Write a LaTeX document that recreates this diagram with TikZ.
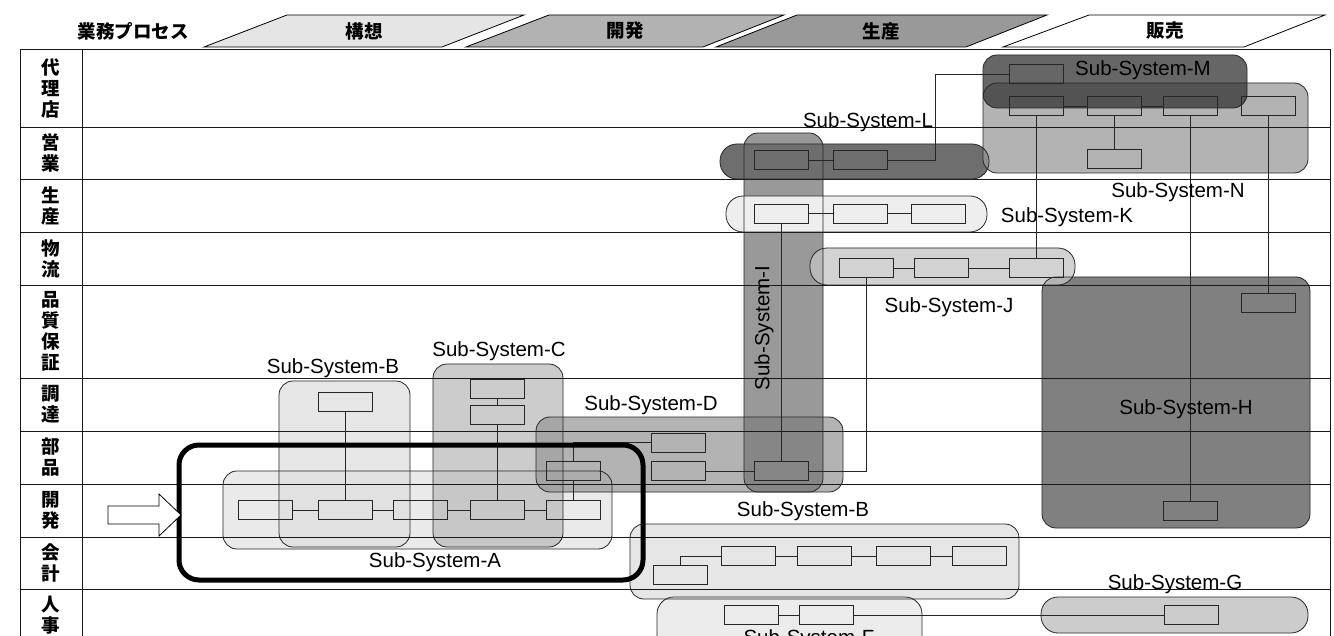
\documentclass[tikz,border=0pt]{standalone}
\usepackage{fontspec}
\setmainfont{Liberation Sans}
\newfontfamily\jp{Noto Sans CJK JP}
\definecolor{phA}{gray}{0.90}
\definecolor{phB}{gray}{0.70}
\definecolor{phC}{gray}{0.60}
\definecolor{gA}{RGB}{227,227,227}
\definecolor{gB}{RGB}{222,222,222}
\definecolor{gC}{RGB}{187,187,187}
\definecolor{gD}{RGB}{154,154,154}
\definecolor{gI}{RGB}{119,119,119}
\definecolor{gK}{RGB}{238,238,238}
\definecolor{gL}{RGB}{110,110,110}
\definecolor{gJ}{RGB}{195,195,195}
\definecolor{gH}{RGB}{86,86,86}
\definecolor{gN}{RGB}{154,154,154}
\definecolor{gM}{RGB}{51,51,51}
\definecolor{gE}{RGB}{222,222,222}
\definecolor{gF}{RGB}{230,230,230}
\definecolor{gG}{RGB}{187,187,187}
\tikzset{
  bx/.style={draw=black!85, line width=0.8pt, minimum width=54pt, minimum height=19pt, inner sep=0pt},
  cn/.style={draw=black!85, line width=0.7pt},
  gfill/.style={fill opacity=0.75, rounded corners=14pt},
  gsolid/.style={rounded corners=17pt},
  gline/.style={draw=black!85, line width=0.8pt, rounded corners=14pt},
  gthin/.style={draw=black!85, line width=0.8pt, rounded corners=17pt},
  rowline/.style={draw=black!90, line width=0.8pt},
  lbl/.style={font=\fontsize{20.5}{22}\selectfont, inner sep=0pt},
  jlbl/.style={font=\jp\bfseries\fontsize{18.5}{21}\selectfont, align=center, inner sep=0pt},
  phase/.style={draw=black, line width=0.8pt},
}
\begin{document}
\begin{tikzpicture}[x=1pt,y=-1pt]
\useasboundingbox (0,0) rectangle (1334,636);
\clip (0,0) rectangle (1334,636);

% ---------- header ----------
\node[jlbl] (hdr) at (133,31) {業務プロセス};
\path[phase, fill=phA] (204,47) -- (287,15) -- (524,15) -- (442,47) -- cycle;
\path[phase, fill=phB] (466,47) -- (549,15) -- (784,15) -- (703,47) -- cycle;
\path[phase, fill=phC] (716,47) -- (797,15) -- (1047,15) -- (966,47) -- cycle;
\path[phase, fill=white] (1003,47) -- (1089,15) -- (1325,15) -- (1244,47) -- cycle;
\node[jlbl] (ph1) at (364,31) {構想};
\node[jlbl] (ph2) at (625,31) {開発};
\node[jlbl] (ph3) at (881,31) {生産};
\node[jlbl] (ph4) at (1165,31) {販売};

% ---------- group fills ----------
\fill[gfill, fill=gA] (223,471) rectangle (612,549);
\fill[gfill, fill=gB] (279,381) rectangle (410,547);
\fill[gfill, fill=gC] (433,364) rectangle (563,547);
\fill[gfill, fill=gD] (536,417) rectangle (843,492);
\fill[gfill, fill=gI] (744,133) rectangle (823,492);
\fill[gsolid, fill=gK] (726,196) rectangle (987,232);
\fill[gsolid, fill=gL] (720,144) rectangle (989,179);
\fill[gfill, fill=gH] (1042,277) rectangle (1310,528);
\fill[gfill, fill=gJ, rounded corners=17pt] (810,248) rectangle (1075,285);
\fill[gfill, fill=gN] (983,83) rectangle (1308,173);
\fill[gfill, fill=gM] (983,55) rectangle (1247,108);
\fill[gfill, fill=gE] (630,524) rectangle (1019,599);
\fill[gfill, fill=gF, rounded corners=17pt] (657,597) rectangle (922,652);
\fill[gfill, fill=gG, rounded corners=17pt] (1041,597) rectangle (1308,633);

% ---------- table ----------
\foreach \yy in {127,179,232,285,378,431,484,537,589}
  \draw[rowline] (20,\yy) -- (1330,\yy);
\draw[rowline] (20,640) -- (20,49) -- (1330,49) -- (1330,640);
\draw[rowline] (82,49) -- (82,640);

\node[jlbl] (r1) at (51,88) {代\\理\\店};
\node[jlbl] (r2) at (51,153) {営\\業};
\node[jlbl] (r3) at (51,205.5) {生\\産};
\node[jlbl] (r4) at (51,258.5) {物\\流};
\node[jlbl] (r5) at (51,331.5) {品\\質\\保\\証};
\node[jlbl] (r6) at (51,404.5) {調\\達};
\node[jlbl] (r7) at (51,457.5) {部\\品};
\node[jlbl] (r8) at (51,510.5) {開\\発};
\node[jlbl] (r9) at (51,563) {会\\計};
\node[jlbl] (r10) at (51,615) {人\\事};

% ---------- group borders ----------
\draw[gline] (223,471) rectangle (612,549);
\draw[gline] (279,381) rectangle (410,547);
\draw[gline] (433,364) rectangle (563,547);
\draw[gline] (536,417) rectangle (843,492);
\draw[gline] (744,133) rectangle (823,492);
\draw[gthin] (726,196) rectangle (987,232);
\draw[gthin] (720,144) rectangle (989,179);
\draw[gline] (1042,277) rectangle (1310,528);
\draw[gthin] (810,248) rectangle (1075,285);
\draw[gline] (983,83) rectangle (1308,173);
\draw[gline] (983,55) rectangle (1247,108);
\draw[gline] (630,524) rectangle (1019,599);
\draw[gthin] (657,597) rectangle (922,652);
\draw[gthin] (1041,597) rectangle (1308,633);

% ---------- boxes ----------
\node[bx] (a1) at (265.5,510) {};
\node[bx] (a2) at (345.5,510) {};
\node[bx] (a3) at (420,510) {};
\node[bx] (a4) at (497.5,510) {};
\node[bx] (a5) at (573,510) {};
\node[bx] (b1) at (345.5,401.5) {};
\node[bx] (c1) at (497.5,388.5) {};
\node[bx] (c2) at (497.5,415) {};
\node[bx] (d1) at (573,471) {};
\node[bx] (d2) at (678,442.5) {};
\node[bx] (d3) at (678,471) {};
\node[bx] (i1) at (781,471) {};
\node[bx] (k1) at (781,213.5) {};
\node[bx] (k2) at (860,213.5) {};
\node[bx] (k3) at (938,213.5) {};
\node[bx] (l1) at (781,160) {};
\node[bx] (l2) at (860,160) {};
\node[bx] (j1) at (866.5,268) {};
\node[bx] (j2) at (941.5,268) {};
\node[bx] (j3) at (1036,268) {};
\node[bx] (m1) at (1036,74) {};
\node[bx] (n1) at (1036,106) {};
\node[bx] (n2) at (1114,106) {};
\node[bx] (n3) at (1190,106) {};
\node[bx] (n4) at (1268.5,106) {};
\node[bx] (n5) at (1114,159) {};
\node[bx] (h1) at (1268.5,302.5) {};
\node[bx] (h2) at (1190,510.5) {};
\node[bx] (e1) at (680,575) {};
\node[bx] (e2) at (748.5,556) {};
\node[bx] (e3) at (824.5,556) {};
\node[bx] (e4) at (903,556) {};
\node[bx] (e5) at (979,556) {};
\node[bx] (f1) at (751,615) {};
\node[bx] (f2) at (826,615) {};
\node[bx] (g1) at (1191,615) {};

\coordinate (lm) at (935,160);

% ---------- connectors ----------
\draw[cn] (a1) -- (a2);
\draw[cn] (a2) -- (a3);
\draw[cn] (a3) -- (a4);
\draw[cn] (a4) -- (a5);
\draw[cn] (b1) -- (a2);
\draw[cn] (c1) -- (c2);
\draw[cn] (c2) -- (a4);
\draw[cn] (d1) -- (a5);
\draw[cn] (d1.north) |- (d2.west);
\draw[cn] (d3) -- (i1);
\draw[cn] (i1.east) -| (j1.south);
\draw[cn] (k1) -- (i1);
\draw[cn] (k1) -- (k2);
\draw[cn] (k2) -- (k3);
\draw[cn] (l1) -- (l2);
\draw[cn] (l2.east) -- (lm) |- (m1.west);
\draw[cn] (j1) -- (j2);
\draw[cn] (j2) -- (j3);
\draw[cn] (n1) -- (n2);
\draw[cn] (n2) -- (n3);
\draw[cn] (n2) -- (n5);
\draw[cn] (n1) -- (j3);
\draw[cn] (n3) -- (h2);
\draw[cn] (n4) -- (h1);
\draw[cn] (e1.north) |- (e2.west);
\draw[cn] (e2) -- (e3);
\draw[cn] (e3) -- (e4);
\draw[cn] (e4) -- (e5);
\draw[cn] (f1) -- (f2);
\draw[cn] (f2) -- (g1);

% ---------- labels ----------
\node[lbl] (tA) at (435,562) {Sub-System-A};
\node[lbl] (tB) at (333,368) {Sub-System-B};
\node[lbl] (tC) at (499,351) {Sub-System-C};
\node[lbl] (tD) at (651,405) {Sub-System-D};
\node[lbl, rotate=90] (tI) at (764,328) {Sub-System-I};
\node[lbl] (tL) at (868,122) {Sub-System-L};
\node[lbl] (tM) at (1143,70) {Sub-System-M};
\node[lbl] (tN) at (1178,192) {Sub-System-N};
\node[lbl] (tK) at (1067,217) {Sub-System-K};
\node[lbl] (tJ) at (949,307) {Sub-System-J};
\node[lbl] (tH) at (1186,409) {Sub-System-H};
\node[lbl] (tE) at (803,511) {Sub-System-B};
\node[lbl] (tG) at (1175,584) {Sub-System-G};
\node[lbl] (tF) at (809,639) {Sub-System-F};

% ---------- highlight frame and arrow ----------
\draw[line width=5pt, rounded corners=20pt] (179,445) rectangle (643,580);
\draw[fill=white, draw=black, line width=0.8pt]
  (108,506) -- (159,506) -- (159,494) -- (181,515) -- (159,536) -- (159,524) -- (108,524) -- cycle;
\end{tikzpicture}
\end{document}
